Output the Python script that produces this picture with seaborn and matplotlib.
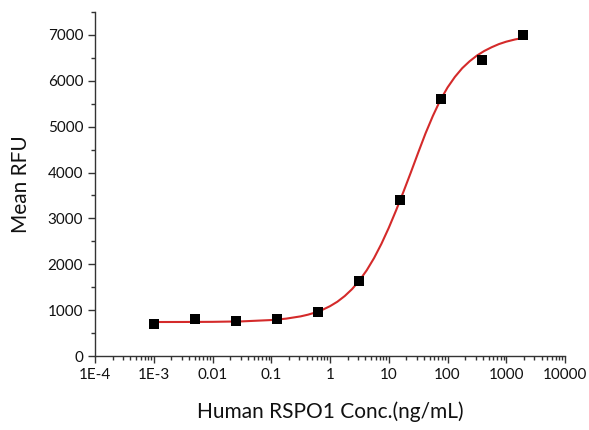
import matplotlib
matplotlib.use("Agg")
import matplotlib.pyplot as plt
import matplotlib.ticker as mticker
import seaborn as sns
import pandas as pd
import numpy as np

# Measured data points (concentration in ng/mL, mean RFU)
conc = [0.001, 0.005, 0.025, 0.125, 0.625, 3.125, 15.625, 78.125, 390.625, 1953.125]
rfu = [700, 820, 760, 805, 955, 1645, 3410, 5595, 6455, 6985]

# Fitted curve (log10 concentration, RFU)
curve_logx = [-3.0, -2.5, -2.0, -1.5, -1.0, -0.75, -0.5, -0.375, -0.25, -0.125,
              0.0, 0.125, 0.25, 0.375, 0.5, 0.625, 0.75, 0.875, 1.0, 1.125,
              1.25, 1.375, 1.5, 1.625, 1.75, 1.875, 2.0, 2.125, 2.25, 2.375,
              2.5, 2.625, 2.75, 2.875, 3.0, 3.15, 3.29]
curve_rfu = [746, 747, 750, 760, 789, 819, 869, 906, 953, 1014,
             1091, 1188, 1311, 1462, 1649, 1873, 2139, 2448, 2796, 3177,
             3581, 4000, 4430, 4850, 5230, 5570, 5850, 6080, 6270, 6420,
             6545, 6645, 6726, 6795, 6848, 6896, 6930]

xtick_vals = [1e-4, 1e-3, 1e-2, 1e-1, 1, 10, 100, 1000, 10000]
xtick_labels = ["1E-4", "1E-3", "0.01", "0.1", "1", "10", "100", "1000", "10000"]
ytick_vals = [0, 1000, 2000, 3000, 4000, 5000, 6000, 7000]

sns.set_style("ticks")
plt.rcParams["font.family"] = ["Lato", "DejaVu Sans"]

df_pts = pd.DataFrame({"conc": conc, "rfu": rfu})
df_fit = pd.DataFrame({"conc": [10 ** v for v in curve_logx], "rfu": curve_rfu})

fig = plt.figure(figsize=(5.89, 4.30), dpi=100)
ax = fig.add_axes([0.1613, 0.1714, 0.798, 0.8014])

sns.lineplot(data=df_fit, x="conc", y="rfu", ax=ax, color="#d42a2a", linewidth=1.5,
             zorder=2)
sns.scatterplot(data=df_pts, x="conc", y="rfu", ax=ax, marker="s", color="black",
                s=45, edgecolor="black", linewidth=0, zorder=3)

ax.set_xscale("log")
ax.set_xlim(1e-4, 1e4)
ax.set_ylim(0, 7500)
ax.set_xticks(xtick_vals)
ax.set_xticklabels(xtick_labels)
ax.xaxis.set_minor_locator(mticker.LogLocator(base=10, subs=np.arange(2, 10), numticks=20))
ax.xaxis.set_minor_formatter(mticker.NullFormatter())
ax.set_yticks(ytick_vals)
ax.yaxis.set_minor_locator(mticker.MultipleLocator(500))

for side in ["top", "right"]:
    ax.spines[side].set_visible(False)
for side in ["left", "bottom"]:
    ax.spines[side].set_color("#333333")
    ax.spines[side].set_linewidth(1.0)

ax.tick_params(axis="both", which="major", direction="out", length=5, width=1,
               color="#333333", labelsize=11, labelcolor="#111111")
ax.tick_params(axis="both", which="minor", direction="out", length=3, width=1,
               color="#333333")

ax.set_xlabel("Human RSPO1 Conc.(ng/mL)", fontsize=15, labelpad=14, color="#111111")
ax.set_ylabel("Mean RFU", fontsize=15, labelpad=12, color="#111111")

fig.savefig("out.png", dpi=100, facecolor="white")
